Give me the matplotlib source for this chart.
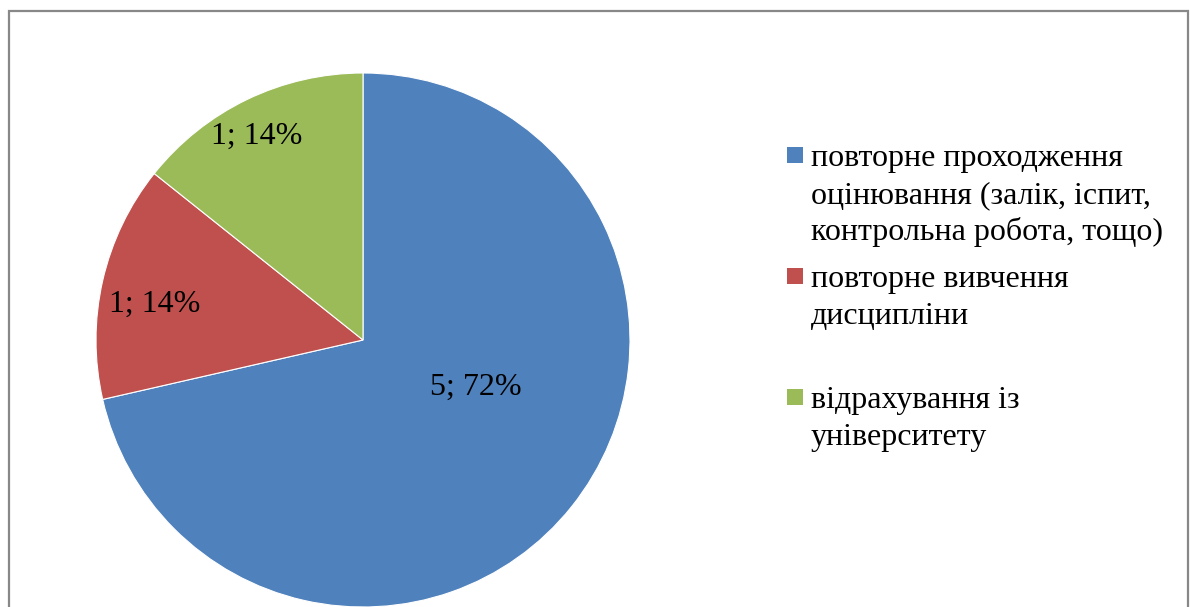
import matplotlib.pyplot as plt
from matplotlib.patches import Rectangle

plt.rcParams['font.family'] = ['Liberation Serif', 'DejaVu Serif']

# дані діаграми
categories = [
    "повторне проходження\nоцінювання (залік, іспит,\nконтрольна робота, тощо)",
    "повторне вивчення\nдисципліни",
    "відрахування із\nуніверситету",
]
values = [5, 1, 1]
percents = [72, 14, 14]
colors = ["#4F81BD", "#C0504D", "#9BBB59"]

# положення підписів (радіус, кут у градусах)
label_pos = [(0.46, -22.8), (0.79, 170.4), (0.86, 117.7)]

W, H = 1190, 607
fig = plt.figure(figsize=(W / 100, H / 100), dpi=100)

# рамка навколо діаграми
fig.patches.append(Rectangle((8.5 / W, -0.1), (1188 - 8.5) / W, 1.1 - 10.5 / H,
                             transform=fig.transFigure, fill=False,
                             edgecolor="#888888", linewidth=1.6))

# кругова діаграма
cx, cy, r = 363, 340, 267
ax = fig.add_axes([(cx - r) / W, (H - cy - r) / H, 2 * r / W, 2 * r / H])
ax.pie(values, colors=colors, startangle=90, counterclock=False,
       wedgeprops=dict(linewidth=0.8, edgecolor="white"))
ax.set_xlim(-1, 1)
ax.set_ylim(-1, 1)
ax.set_aspect("auto")

import numpy as np
for v, p, (rad, ang) in zip(values, percents, label_pos):
    a = np.deg2rad(ang)
    ax.text(rad * np.cos(a), rad * np.sin(a), f"{v}; {p}%",
            ha="center", va="center", fontsize=23)

# легенда
x_box, x_txt = 787, 811
base0, step, line_h = 166, 121, 37
for i, (lab, c) in enumerate(zip(categories, colors)):
    b = base0 + i * step
    fig.patches.append(Rectangle((x_box / W, 1 - (b - 3) / H), 16 / W, 16 / H,
                                 transform=fig.transFigure, facecolor=c,
                                 edgecolor="none"))
    for j, line in enumerate(lab.split("\n")):
        fig.text(x_txt / W, 1 - (b + j * line_h) / H, line,
                 ha="left", va="baseline", fontsize=23)

fig.savefig("out.png", dpi=100)
